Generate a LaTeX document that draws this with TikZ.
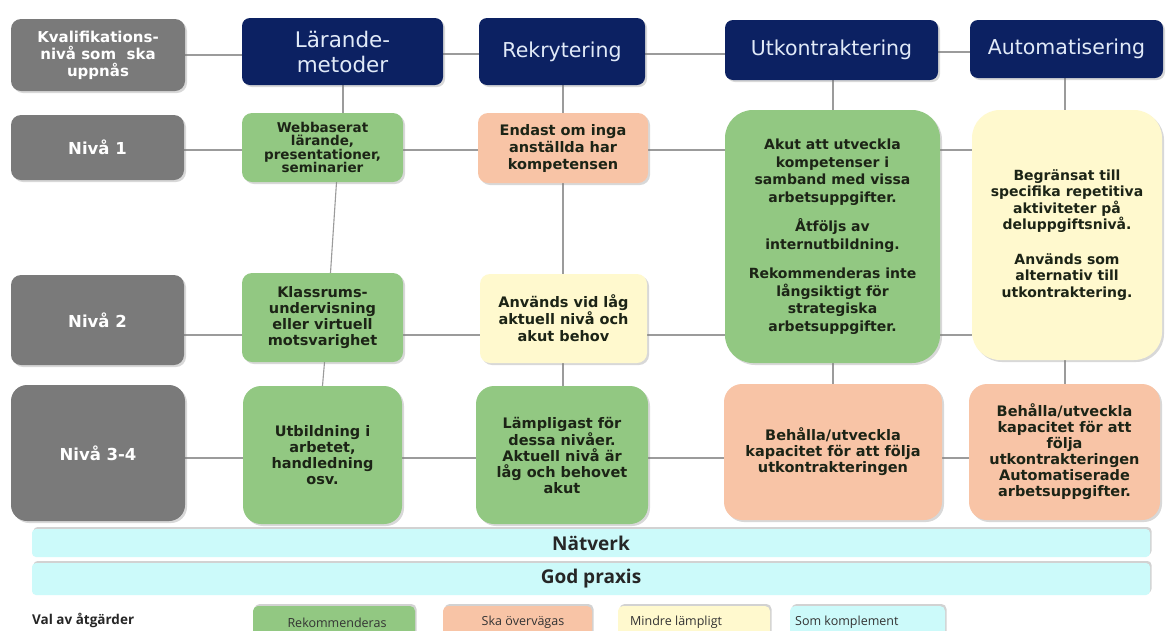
\documentclass[tikz,border=0pt]{standalone}
\usepackage{fontspec}
\setmainfont{DejaVu Sans}
\newfontfamily\legfont{Open Sans}
\usetikzlibrary{shadows,calc,backgrounds}
\definecolor{navy}{RGB}{12,33,98}
\definecolor{grayb}{RGB}{122,122,122}
\definecolor{greenb}{RGB}{146,200,130}
\definecolor{orangeb}{RGB}{248,196,166}
\definecolor{yellowb}{RGB}{255,249,206}
\definecolor{cyanb}{RGB}{204,250,250}
\definecolor{txt}{RGB}{28,36,22}
\definecolor{linec}{RGB}{155,155,155}
\definecolor{hdrtxt}{RGB}{225,234,248}
\begin{document}
\begin{tikzpicture}[x=1pt,y=-1pt,
  wh/.style 2 args={minimum width=#1pt, minimum height=#2pt},
  shd/.style={drop shadow={shadow xshift=2pt,shadow yshift=-2pt,opacity=0.3}},
  upshd/.style={drop shadow={shadow xshift=1.5pt,shadow yshift=2pt,opacity=0.35}},
  hdr/.style={shd, rounded corners=8pt, fill=navy, text=hdrtxt, align=center, inner sep=0pt,
    font=\fontsize{20.5}{25}\selectfont},
  lvl/.style={shd, rounded corners=10pt, fill=grayb, text=white, align=center, inner sep=0pt,
    font=\bfseries\fontsize{16.5}{17}\selectfont},
  cell/.style={shd, rounded corners=10pt, text=txt, align=center, inner sep=0pt,
    font=\bfseries\fontsize{14.5}{16}\selectfont},
  bar/.style={upshd, rounded corners=4pt, fill=cyanb, text=black!85, inner sep=0pt,
    font=\legfont\bfseries\fontsize{19}{22}\selectfont},
  legbox/.style={upshd, rounded corners=5pt, inner sep=0pt},
  legtxt/.style={text=black!80, inner sep=0pt, font=\legfont\fontsize{12.5}{15}\selectfont},
  conn/.style={draw=linec, line width=1.1pt}
]
\useasboundingbox (0,0) rectangle (1170,630);
\clip (0,0) rectangle (1170,630);
\begin{scope}[on background layer]
  \fill[white] (0,0) rectangle (1170,630);
\end{scope}

% headers
\node[lvl, wh={174}{72}, font=\bfseries\fontsize{15}{17}\selectfont] (kval) at (98,55) {Kvalifikations-\\nivå som\ \ ska\\uppnås};
\node[hdr, wh={201}{67}, font=\fontsize{21.5}{25}\selectfont] (h1) at (342.5,51.5) {Lärande-\\metoder};
\node[hdr, wh={166}{67}] (h2) at (562,51.5) {Rekrytering};
\node[hdr, wh={213}{60}] (h3) at (831.5,50) {Utkontraktering};
\node[hdr, wh={193}{58}] (h4) at (1066.5,49) {Automatisering};

% row 1
\node[lvl, wh={173}{65}] (n1) at (97.5,147.5) {Nivå 1};
\node[cell, fill=greenb, wh={161}{69}, font=\bfseries\fontsize{13.5}{13.5}\selectfont] (web) at (322.5,147.5)
  {Webbaserat\\lärande,\\presentationer,\\seminarier};
\node[cell, fill=orangeb, wh={170}{70}, font=\bfseries\fontsize{14.5}{17}\selectfont] (endast) at (563,148) {Endast om inga\\anställda har\\kompetensen};
\node[cell, fill=greenb, wh={215}{253}, rounded corners=28pt, font=\bfseries\fontsize{14}{17.5}\selectfont] (akut) at (832.5,236.5)
  {Akut att utveckla\\kompetenser i\\samband med vissa\\arbetsuppgifter.\\[12pt]Åtföljs av\\internutbildning.\\[12pt]Rekommenderas inte\\långsiktigt för\\strategiska\\arbetsuppgifter.};
\node[cell, fill=yellowb, wh={190}{250}, rounded corners=28pt, font=\bfseries\fontsize{14}{16.5}\selectfont] (begr) at (1067,235)
  {Begränsat till\\specifika repetitiva\\aktiviteter på\\deluppgiftsnivå.\\[18pt]Används som\\alternativ till\\utkontraktering.};

% row 2
\node[lvl, wh={173}{90}] (n2) at (97.5,320) {Nivå 2};
\node[cell, fill=greenb, wh={161}{89}] (klass) at (322.5,317.5) {Klassrums-\\undervisning\\eller virtuell\\motsvarighet};
\node[cell, fill=yellowb, wh={167}{89}, font=\bfseries\fontsize{14.5}{17}\selectfont] (anv) at (563.5,318.5) {Används vid låg\\aktuell nivå och\\akut behov};

% row 3
\node[lvl, wh={174}{136}, rounded corners=16pt] (n3) at (98,453) {Nivå 3-4};
\node[cell, fill=greenb, wh={159}{138}, rounded corners=18pt] (utb) at (322.5,455) {Utbildning i\\arbetet,\\handledning\\osv.};
\node[cell, fill=greenb, wh={172}{138}, rounded corners=18pt] (lamp) at (562,455) {Lämpligast för\\dessa nivåer.\\Aktuell nivå är\\låg och behovet\\akut};
\node[cell, fill=orangeb, wh={218}{136}, rounded corners=18pt] (beh1) at (833,452) {Behålla/utveckla\\kapacitet för att följa\\utkontrakteringen};
\node[cell, fill=orangeb, wh={191}{136}, rounded corners=18pt] (beh2) at (1064.5,452) {Behålla/utveckla\\kapacitet för att\\följa\\utkontrakteringen\\Automatiserade\\arbetsuppgifter.};

% bars
\node[bar, wh={1118}{28}] (nat) at (591,543) {Nätverk};
\node[bar, wh={1118}{32}] (god) at (591,579) {God praxis};

% legend
\node[anchor=west, text=black!85, inner sep=0pt, font=\legfont\bfseries\fontsize{13.5}{15}\selectfont] (val) at (32,620) {Val av åtgärder};
\node[legbox, fill=greenb, wh={162}{40}] (l1) at (334,626) {};
\node[legbox, fill=orangeb, wh={149}{40}] (l2) at (517.5,626) {};
\node[legbox, fill=yellowb, wh={152}{40}] (l3) at (694,626) {};
\node[legbox, fill=cyanb, wh={155}{40}] (l4) at (867.5,626) {};
\node[legtxt] (t1) at (337,623) {Rekommenderas};
\node[legtxt] (t2) at (523,622) {Ska övervägas};
\node[legtxt, anchor=west] (t3) at (630,622) {Mindre lämpligt};
\node[legtxt, anchor=west] (t4) at (795,622) {Som komplement};

% connectors
\coordinate (yh) at (0,54);
\coordinate (yh2) at (0,52);
\coordinate (r1) at (0,150);
\coordinate (r2) at (0,335);
\coordinate (r3) at (0,458);
\coordinate (x1) at (343,0);
\coordinate (x2) at (563,0);
\coordinate (x3) at (833,0);
\coordinate (x4) at (1065,0);
\begin{scope}[on background layer]
  \draw[conn] (kval.east) -- (kval.east -| h1.west);
  \draw[conn] (h1.east |- yh) -- (h2.west |- yh);
  \draw[conn] (h2.east |- yh) -- (h3.west |- yh);
  \draw[conn] (h3.east |- yh2) -- (h4.west |- yh2);
  \draw[conn] (h1.south -| x1) -- (web.north -| x1);
  \draw[conn] ($(web.south)+(14,0)$) -- ($(klass.north)+(8,0)$);
  \draw[conn] ($(klass.south)+(2,0)$) -- (utb.north);
  \draw[conn] (h2.south -| x2) -- (endast.north -| x2);
  \draw[conn] (endast.south -| x2) -- (anv.north -| x2);
  \draw[conn] (anv.south -| x2) -- (lamp.north -| x2);
  \draw[conn] (h3.south -| x3) -- (akut.north -| x3);
  \draw[conn] (akut.south -| x3) -- (beh1.north -| x3);
  \draw[conn] (h4.south -| x4) -- (begr.north -| x4);
  \draw[conn] (begr.south -| x4) -- (beh2.north -| x4);
  \draw[conn] (n1.east |- r1) -- (web.west |- r1);
  \draw[conn] (web.east |- r1) -- (endast.west |- r1);
  \draw[conn] (endast.east |- r1) -- (akut.west |- r1);
  \draw[conn] (akut.east |- r1) -- (begr.west |- r1);
  \draw[conn] (n2.east |- r2) -- (klass.west |- r2);
  \draw[conn] (klass.east |- r2) -- (anv.west |- r2);
  \draw[conn] (anv.east |- r2) -- (akut.west |- r2);
  \draw[conn] (akut.east |- r2) -- (begr.west |- r2);
  \draw[conn] (n3.east |- r3) -- (utb.west |- r3);
  \draw[conn] (utb.east |- r3) -- (lamp.west |- r3);
  \draw[conn] (lamp.east |- r3) -- (beh1.west |- r3);
  \draw[conn] (beh1.east |- r3) -- (beh2.west |- r3);
\end{scope}
\end{tikzpicture}
\end{document}
